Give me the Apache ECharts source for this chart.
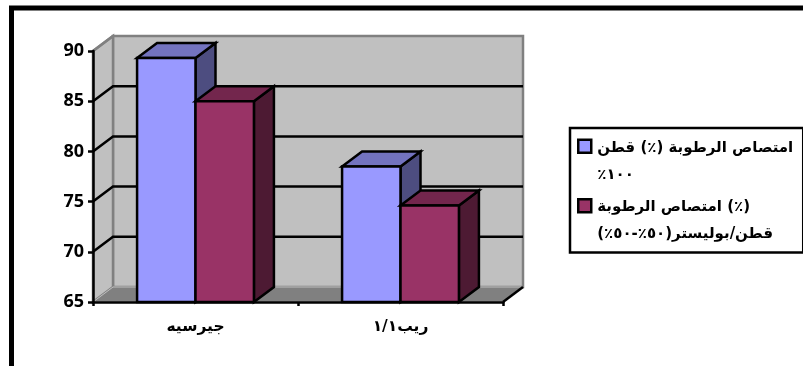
<!DOCTYPE html>
<html>
<head>
<meta charset="utf-8">
<style>html,body{margin:0;padding:0;background:#fff}#c{width:803px;height:366px}</style>
<script src="https://cdn.jsdelivr.net/npm/echarts@6/dist/echarts.min.js"></script>
</head>
<body>
<div id="c"></div>
<script>
const categories = ['جيرسيه', 'ريب١/١'];
const cottonValues = [89.3, 78.5];
const blendValues = [85.0, 74.6];
const cottonName = 'امتصاص الرطوبة (٪) قطن\n٪١٠٠';
const blendName = 'امتصاص الرطوبة (٪)\nقطن/بوليستر(٥٠٪-٥٠٪)';
const yTicks = [65, 70, 75, 80, 85, 90];

const DX = 20, DY = -15;
const STROKE = { stroke: '#000', lineWidth: 2.5, lineJoin: 'miter' };
// Swatch sits beside the first line of a two-line legend entry
const SWATCH_ICON = 'path://M0 0M1 5.5H14V18.5H1ZM15 54';

function face(points, fill) {
  return { type: 'polygon', shape: { points }, style: { fill, ...STROKE } };
}

// Draws one extruded column: front, top and right faces
function barRenderer(colors, side) {
  return function (params, api) {
    const base = api.coord([api.value(0), 65]);
    const top = api.coord([api.value(0), api.value(1)]);
    const w = api.size([1, 0])[0] * 0.285;
    const x0 = side < 0 ? base[0] - w : base[0];
    const x1 = x0 + w, yt = top[1], yb = base[1];
    return {
      type: 'group',
      children: [
        face([[x1, yb], [x1 + DX, yb + DY], [x1 + DX, yt + DY], [x1, yt]], colors[2]),
        face([[x0, yt], [x0 + DX, yt + DY], [x1 + DX, yt + DY], [x1, yt]], colors[1]),
        face([[x0, yb], [x1, yb], [x1, yt], [x0, yt]], colors[0])
      ]
    };
  };
}

// Back wall, side wall, floor and the gridlines that run across the walls
function wallRenderer(params, api) {
  const l = api.coord([0, 65]);
  const size = api.size([1, 0])[0];
  const xl = l[0] - size / 2, xr = xl + size * categories.length;
  const yb = l[1], yt = api.coord([0, 90])[1];
  const children = [
    { type: 'polygon', shape: { points: [[xl + DX, yt + DY], [xr + DX, yt + DY], [xr + DX, yb + DY], [xl + DX, yb + DY]] },
      style: { fill: '#C0C0C0', stroke: '#808080', lineWidth: 2.5 } },
    { type: 'polygon', shape: { points: [[xl, yt], [xl + DX, yt + DY], [xl + DX, yb + DY], [xl, yb]] },
      style: { fill: '#C0C0C0', stroke: '#808080', lineWidth: 2.5 } },
    { type: 'polygon', shape: { points: [[xl, yb], [xl + DX, yb + DY], [xr + DX, yb + DY], [xr, yb]] },
      style: { fill: '#808080', stroke: '#C0C0C0', lineWidth: 1 } }
  ];
  yTicks.slice(1, -1).forEach(function (t) {
    const y = api.coord([0, t])[1];
    children.push({ type: 'polyline', shape: { points: [[xl, y], [xl + DX, y + DY], [xr + DX, y + DY]] },
      style: { fill: 'none', stroke: '#000', lineWidth: 2.5 } });
  });
  children.push({ type: 'line', shape: { x1: xr, y1: yb, x2: xr + DX, y2: yb + DY },
    style: { stroke: '#000', lineWidth: 2.5 } });
  children.push({ type: 'line', shape: { x1: xl, y1: yt, x2: xl + DX, y2: yt + DY },
    style: { stroke: '#808080', lineWidth: 2.5 } });
  return { type: 'group', children };
}

const chart = echarts.init(document.getElementById('c'), null, { renderer: 'canvas' });
chart.setOption({
  animation: false,
  backgroundColor: '#fff',
  graphic: [{
    type: 'rect', silent: true, z: 0,
    shape: { x: 11.5, y: 8, width: 800, height: 370 },
    style: { fill: '#fff', stroke: '#000', lineWidth: 5 }
  }],
  grid: { left: 93, right: 300, top: 51, bottom: 64 },
  legend: {
    left: 570, top: 128,
    orient: 'vertical',
    padding: [5, 10, 3.5, 6],
    backgroundColor: '#fff',
    borderColor: '#000',
    borderWidth: 2.5,
    itemWidth: 15, itemHeight: 54,
    itemGap: 3,
    textStyle: { fontFamily: 'DejaVu Sans', fontWeight: 'bold', fontSize: 15, color: '#000', lineHeight: 27 },
    data: [
      { name: cottonName, icon: SWATCH_ICON, itemStyle: { color: '#9999FF', borderColor: '#000', borderWidth: 2.5 } },
      { name: blendName, icon: SWATCH_ICON, itemStyle: { color: '#993366', borderColor: '#000', borderWidth: 2.5 } }
    ]
  },
  xAxis: {
    type: 'category',
    data: categories,
    boundaryGap: true,
    axisLine: { lineStyle: { color: '#000', width: 2.5 } },
    axisTick: { show: true, alignWithLabel: false, length: 4, lineStyle: { color: '#000', width: 2.5 } },
    axisLabel: { margin: 17, fontFamily: 'DejaVu Sans', fontWeight: 'bold', fontSize: 15.5, color: '#000' },
    z: 5
  },
  yAxis: {
    type: 'value',
    min: 65, max: 90, interval: 5,
    axisLine: { show: true, lineStyle: { color: '#000', width: 2.5 } },
    axisTick: { show: true, length: 5, lineStyle: { color: '#000', width: 2.5 } },
    axisLabel: { margin: 9, fontFamily: 'Noto Sans', fontWeight: 'bold', fontSize: 18, color: '#000' },
    splitLine: { show: false },
    z: 5
  },
  series: [
    { name: 'walls', type: 'custom', renderItem: wallRenderer, data: [[0]], z: 1, silent: true, clip: false, encode: { x: 0 } },
    { name: cottonName, type: 'custom', z: 3, clip: false, encode: { x: 0, y: 1 },
      itemStyle: { color: '#9999FF' },
      renderItem: barRenderer(['#9999FF', '#7373BF', '#4D4D80'], -1),
      data: cottonValues.map((v, i) => [i, v]) },
    { name: blendName, type: 'custom', z: 4, clip: false, encode: { x: 0, y: 1 },
      itemStyle: { color: '#993366' },
      renderItem: barRenderer(['#993366', '#73264D', '#4D1A33'], 1),
      data: blendValues.map((v, i) => [i, v]) }
  ]
});
</script>
</body>
</html>
